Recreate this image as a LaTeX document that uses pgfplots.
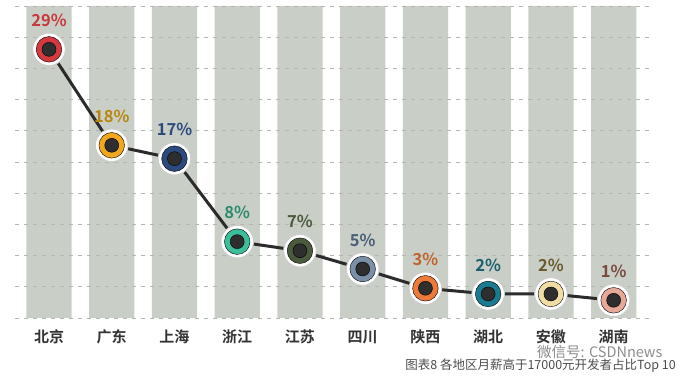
\documentclass[border=0pt]{standalone}
\usepackage{fontspec}
\setmainfont{Noto Sans CJK SC}[BoldFont={Noto Sans CJK SC Bold}]
\usepackage{pgfplots}
\pgfplotsset{compat=1.18}
\definecolor{barc}{HTML}{C9CFC7}
\definecolor{gridc}{HTML}{B4B6B2}
\definecolor{edgec}{HTML}{555555}
\definecolor{linec}{HTML}{2B2B2B}
\definecolor{dotc}{HTML}{2E2E2E}
\definecolor{m1}{HTML}{D33A3F}\definecolor{l1}{HTML}{C8373C}
\definecolor{m2}{HTML}{F2A81D}\definecolor{l2}{HTML}{B8860F}
\definecolor{m3}{HTML}{2C4A7E}\definecolor{l3}{HTML}{2C4A7E}
\definecolor{m4}{HTML}{3DBE9B}\definecolor{l4}{HTML}{2E8A6C}
\definecolor{m5}{HTML}{4B5A3C}\definecolor{l5}{HTML}{4B5A3C}
\definecolor{m6}{HTML}{7A90A8}\definecolor{l6}{HTML}{4A5E7A}
\definecolor{m7}{HTML}{EE7A3A}\definecolor{l7}{HTML}{C0622C}
\definecolor{m8}{HTML}{197A90}\definecolor{l8}{HTML}{1A5E70}
\definecolor{m9}{HTML}{F0DCA4}\definecolor{l9}{HTML}{6A5A2E}
\definecolor{m10}{HTML}{E8A898}\definecolor{l10}{HTML}{7A4A40}
\newcommand\pctfont{\fontsize{16.5bp}{18bp}\selectfont\bfseries}
\newcommand\ptcat[5]{\addplot[only marks, mark=*, mark size=12.8bp, mark options={fill=#3, draw=none},
  nodes near coords={#5}, every node near coord/.append style={text=#4, font=\pctfont, anchor=center, yshift=29bp}]
  coordinates {(#1,#2)};}
\begin{document}
\begin{tikzpicture}
\begin{axis}[
  set layers=standard,
  at={(15bp,60bp)}, anchor=south west,
  scale only axis, width=637bp, height=312bp,
  xmin=-0.542, xmax=9.611, ymin=0, ymax=34,
  axis line style={draw=none},
  xtick={0,...,9},
  xticklabels={北京,广东,上海,浙江,江苏,四川,陕西,湖北,安徽,湖南},
  xtick style={draw=none},
  xticklabel style={font=\fontsize{15bp}{17bp}\selectfont\bfseries, text=black!80, anchor=center, yshift=-19bp},
  ytick={3.4,6.8,...,30.7},
  yticklabels={},
  ytick style={draw=none},
  ymajorgrids,
  major grid style={gridc, dash pattern=on 4bp off 5bp, line width=0.8bp},
  extra y ticks={0,34},
  extra y tick labels={},
  extra y tick style={grid style={edgec, dash pattern=on 4bp off 3bp, line width=1.8bp}, tick style={draw=none}},
  clip=false,
]
\addplot[ybar, bar width=0.72, fill=barc, draw=none, on layer=axis background]
  coordinates {(0,34) (1,34) (2,34) (3,34) (4,34) (5,34) (6,34) (7,34) (8,34) (9,34)};
\addplot[linec, line width=3bp, mark=none]
  coordinates {(0,29.28) (1,18.82) (2,17.36) (3,8.32) (4,7.33) (5,5.34) (6,3.24) (7,2.62) (8,2.62) (9,1.93)};
\addplot[only marks, mark=*, mark size=16.3bp, mark options={fill=white, draw=black!20, line width=0.9bp}]
  coordinates {(0,29.28) (1,18.82) (2,17.36) (3,8.32) (4,7.33) (5,5.34) (6,3.24) (7,2.62) (8,2.62) (9,1.93)};
\ptcat{0}{29.28}{m1}{l1}{29\%}
\ptcat{1}{18.82}{m2}{l2}{18\%}
\ptcat{2}{17.36}{m3}{l3}{17\%}
\ptcat{3}{8.32}{m4}{l4}{8\%}
\ptcat{4}{7.33}{m5}{l5}{7\%}
\ptcat{5}{5.34}{m6}{l6}{5\%}
\ptcat{6}{3.24}{m7}{l7}{3\%}
\ptcat{7}{2.62}{m8}{l8}{2\%}
\ptcat{8}{2.62}{m9}{l9}{2\%}
\ptcat{9}{1.93}{m10}{l10}{1\%}
\addplot[only marks, mark=*, mark size=7bp, mark options={fill=dotc, draw=none}]
  coordinates {(0,29.28) (1,18.82) (2,17.36) (3,8.32) (4,7.33) (5,5.34) (6,3.24) (7,2.62) (8,2.62) (9,1.93)};
\end{axis}
\node[anchor=west, text=black!45, font=\fontsize{14.5bp}{16bp}\selectfont, inner sep=0pt] at (537bp,26bp) {微信号: CSDNnews};
\node[anchor=east, text=black!70, font=\fontsize{12.5bp}{14bp}\selectfont, inner sep=0pt] at (676bp,12bp) {图表8 各地区月薪高于17000元开发者占比Top 10};
\pgfresetboundingbox
\path (0,0) rectangle (686bp,378bp);
\end{tikzpicture}
\end{document}
